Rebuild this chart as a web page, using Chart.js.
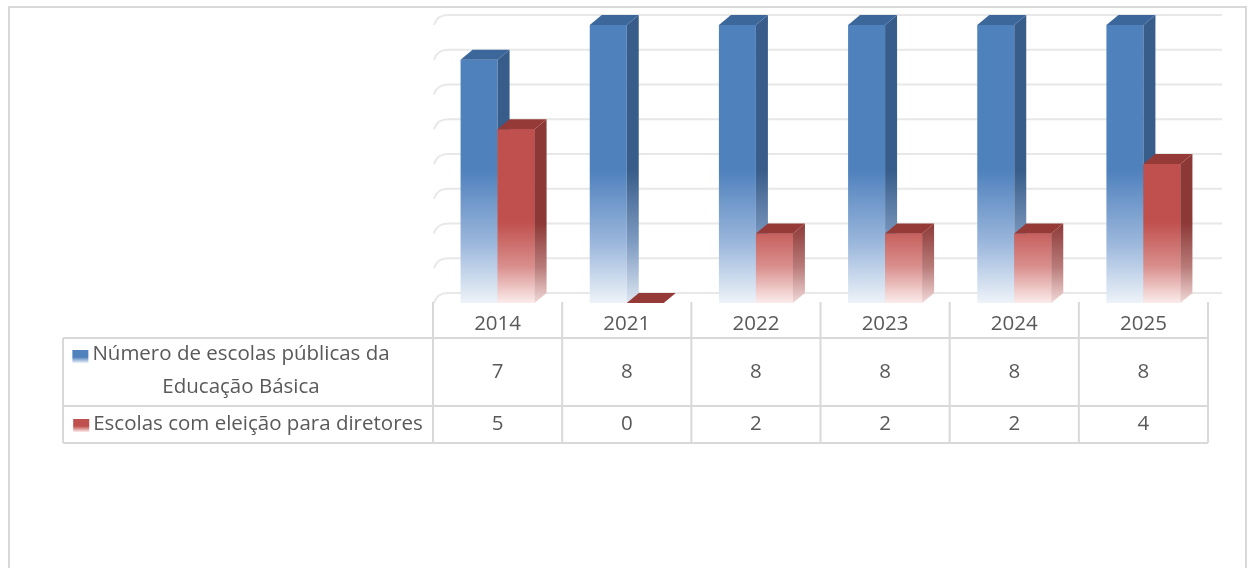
<!DOCTYPE html>
<html>
<head>
<meta charset="utf-8">
<script src="https://cdn.jsdelivr.net/npm/chart.js@4.4.1/dist/chart.umd.min.js"></script>
<style>
  html, body { margin: 0; padding: 0; background: #fff; overflow: hidden; }
  #chart { display: block; }
</style>
</head>
<body>
<canvas id="chart" width="1248" height="568"></canvas>
<script>
// data
const years           = ['2014', '2021', '2022', '2023', '2024', '2025'];
const escolasPublicas = [7, 8, 8, 8, 8, 8];
const escolasEleicao  = [5, 0, 2, 2, 2, 4];
const seriesLabels    = [
  ['Número de escolas públicas da', 'Educação Básica'],
  ['Escolas com eleição para diretores'],
];
const yMax = 8;

const DX = 12, DY = 10;           // 3d depth offset
const TXT = '#595959';
const LINE = '#d9d9d9';
const FONT = '"Open Sans", "Noto Sans", sans-serif';

const COLORS = {
  blue: { front: '#4f81bd', mid: '#9bb7dc', side: '#385d8a', sideMid: '#7f9cc2', top: '#3c679b', fadeFrom: 170, light: '#eef3f9', sideLight: '#dde6f1' },
  red:  { front: '#c0504d', mid: '#d98f8d', side: '#8c3836', sideMid: '#b87a78', top: '#963a37', fadeFrom: 222, light: '#fbeceb', sideLight: '#f1d9d8' },
};

function vGrad(ctx, area, c, side) {
  const g = ctx.createLinearGradient(0, area.top, 0, area.bottom);
  const span = area.bottom - area.top;
  const s = Math.max(0, Math.min(1, (c.fadeFrom - area.top) / span));
  const base = side ? c.side : c.front;
  g.addColorStop(0, base);
  g.addColorStop(s, base);
  g.addColorStop(s + (1 - s) * 0.55, side ? c.sideMid : c.mid);
  g.addColorStop(1, side ? c.sideLight : c.light);
  return g;
}

function frontFill(name) {
  return (context) => {
    const chart = context.chart;
    if (!chart.chartArea) return COLORS[name].front;
    return vGrad(chart.ctx, chart.chartArea, COLORS[name], false);
  };
}

// back wall gridlines, outer frame and the 3d faces of the bars
const backWall = {
  id: 'backWall',
  beforeDatasetsDraw(chart) {
    const { ctx, chartArea: a, scales: { y } } = chart;
    ctx.save();
    ctx.strokeStyle = LINE;
    ctx.lineWidth = 2;
    ctx.beginPath();
    ctx.moveTo(9, 570); ctx.lineTo(9, 7); ctx.lineTo(1246, 7); ctx.lineTo(1246, 570);
    ctx.stroke();

    ctx.strokeStyle = '#e8e8e8';
    ctx.lineWidth = 2;
    for (let v = 0; v <= yMax; v++) {
      const py = y.getPixelForValue(v);
      ctx.beginPath();
      ctx.moveTo(a.left + 1, py);
      ctx.quadraticCurveTo(a.left + 4, py - DY, a.left + DX + 3, py - DY);
      ctx.lineTo(a.right + DX + 2, py - DY);
      ctx.stroke();
    }
    ctx.restore();
  },
  afterDatasetsDraw(chart) {
    const { ctx, chartArea: a } = chart;
    ctx.save();
    [0, 1].forEach((di) => {
      const meta = chart.getDatasetMeta(di);
      const c = di === 0 ? COLORS.blue : COLORS.red;
      meta.data.forEach((bar) => {
        if (di === 1) bar.draw(ctx, a);   // red front over the blue side face
        const p = bar.getProps(['x', 'y', 'base', 'width'], true);
        const l = p.x - p.width / 2, r = p.x + p.width / 2;
        ctx.fillStyle = vGrad(ctx, a, c, true);
        ctx.beginPath();
        ctx.moveTo(r, p.y); ctx.lineTo(r + DX, p.y - DY);
        ctx.lineTo(r + DX, p.base - DY); ctx.lineTo(r, p.base);
        ctx.closePath(); ctx.fill();
        ctx.fillStyle = c.top;
        ctx.beginPath();
        ctx.moveTo(l, p.y); ctx.lineTo(l + DX, p.y - DY);
        ctx.lineTo(r + DX, p.y - DY); ctx.lineTo(r, p.y);
        ctx.closePath(); ctx.fill();
      });
    });
    ctx.restore();
  },
};

// data table under the plot
const dataTable = {
  id: 'dataTable',
  afterDraw(chart) {
    const { ctx, chartArea: a, scales: { x } } = chart;
    const left = 63, top = 302, r1 = 338, r2 = 406, bottom = 443;
    const step = (a.right - a.left) / years.length;
    ctx.save();
    ctx.strokeStyle = LINE;
    ctx.lineWidth = 2;
    ctx.beginPath();
    [r1, r2, bottom].forEach(yy => { ctx.moveTo(left, yy); ctx.lineTo(a.right, yy); });
    ctx.moveTo(left, r1); ctx.lineTo(left, bottom);
    for (let i = 0; i <= years.length; i++) {
      const xx = a.left + i * step;
      ctx.moveTo(xx, top); ctx.lineTo(xx, bottom);
    }
    ctx.stroke();

    ctx.fillStyle = TXT;
    ctx.font = '20.5px ' + FONT;
    ctx.textAlign = 'center';
    ctx.textBaseline = 'middle';
    years.forEach((yr, i) => {
      const cx = x.getPixelForValue(i);
      ctx.fillText(yr, cx, 324);
      ctx.fillText(String(escolasPublicas[i]), cx, 372);
      ctx.fillText(String(escolasEleicao[i]), cx, 424);
    });

    const key = (kx, ky, c) => {
      const g = ctx.createLinearGradient(0, ky, 0, ky + 13);
      g.addColorStop(0, c.front); g.addColorStop(0.55, c.front); g.addColorStop(1, c.light);
      ctx.fillStyle = g;
      ctx.fillRect(kx, ky, 16, 13);
    };
    ctx.fillStyle = TXT;
    ctx.fillText(seriesLabels[0][0], 241, 354);
    ctx.fillText(seriesLabels[0][1], 241, 387);
    ctx.fillText(seriesLabels[1][0], 258, 424);
    const w0 = ctx.measureText(seriesLabels[0][0]).width;
    const w1 = ctx.measureText(seriesLabels[1][0]).width;
    key(241 - w0 / 2 - 20, 350, COLORS.blue);
    key(258 - w1 / 2 - 20, 419, COLORS.red);
    ctx.restore();
  },
};

new Chart(document.getElementById('chart'), {
  type: 'bar',
  data: {
    labels: years,
    datasets: [
      { label: seriesLabels[0].join(' '), data: escolasPublicas, backgroundColor: frontFill('blue') },
      { label: seriesLabels[1][0],        data: escolasEleicao,  backgroundColor: frontFill('red') },
    ],
  },
  options: {
    responsive: false,
    animation: false,
    devicePixelRatio: 1,
    layout: { padding: { left: 433, right: 40, top: 25, bottom: 265 } },
    datasets: { bar: { categoryPercentage: 0.573, barPercentage: 1, borderWidth: 0 } },
    scales: {
      x: { display: false },
      y: { display: false, min: 0, max: yMax },
    },
    plugins: { legend: { display: false }, title: { display: false }, tooltip: { enabled: false } },
  },
  plugins: [backWall, dataTable],
});
</script>
</body>
</html>
